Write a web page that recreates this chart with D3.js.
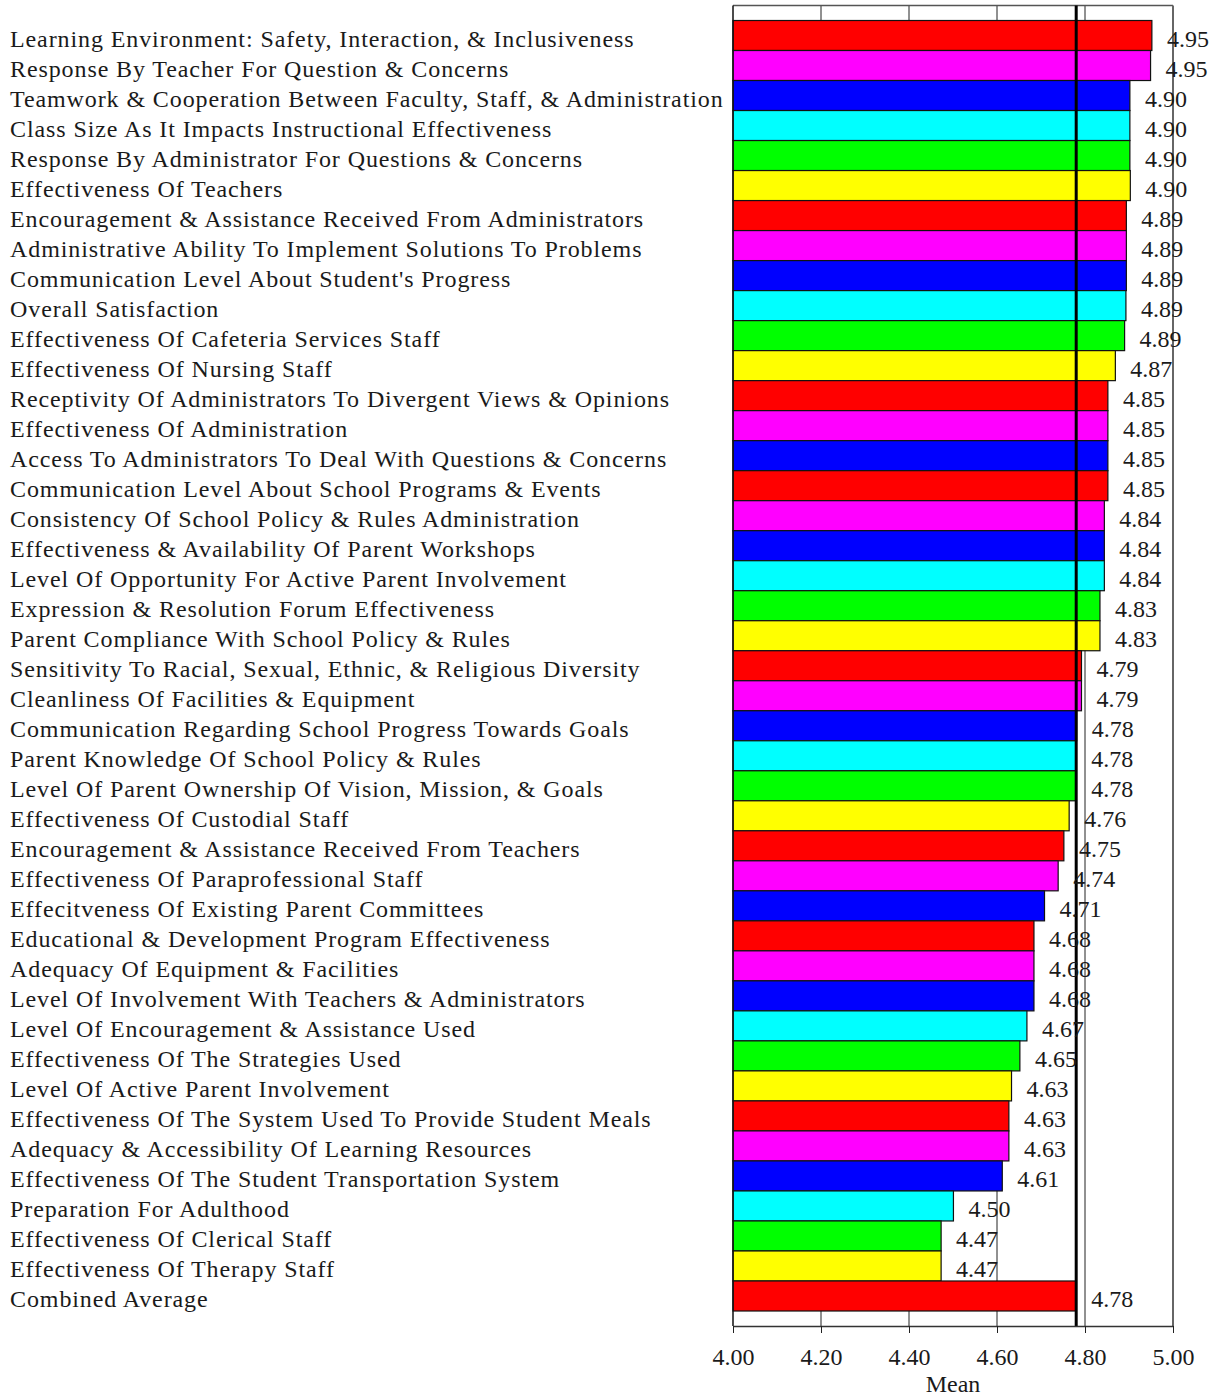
<!DOCTYPE html>
<html>
<head>
<meta charset="utf-8">
<script src="https://cdn.jsdelivr.net/npm/d3@7"></script>
<style>
  html, body { margin: 0; padding: 0; background: #fff; }
  svg { display: block; }
</style>
</head>
<body>
<svg id="chart" width="1214" height="1397"></svg>
<script>
// Survey items, in display order (top to bottom)
const categories = [
  "Learning Environment: Safety, Interaction, & Inclusiveness",
  "Response By Teacher For Question & Concerns",
  "Teamwork & Cooperation Between Faculty, Staff, & Administration",
  "Class Size As It Impacts Instructional Effectiveness",
  "Response By Administrator For Questions & Concerns",
  "Effectiveness Of Teachers",
  "Encouragement & Assistance Received From Administrators",
  "Administrative Ability To Implement Solutions To Problems",
  "Communication Level About Student's Progress",
  "Overall Satisfaction",
  "Effectiveness Of Cafeteria Services Staff",
  "Effectiveness Of Nursing Staff",
  "Receptivity Of Administrators To Divergent Views & Opinions",
  "Effectiveness Of Administration",
  "Access To Administrators To Deal With Questions & Concerns",
  "Communication Level About School Programs & Events",
  "Consistency Of School Policy & Rules Administration",
  "Effectiveness & Availability Of Parent Workshops",
  "Level Of Opportunity For Active Parent Involvement",
  "Expression & Resolution Forum Effectiveness",
  "Parent Compliance With School Policy & Rules",
  "Sensitivity To Racial, Sexual, Ethnic, & Religious Diversity",
  "Cleanliness Of Facilities & Equipment",
  "Communication Regarding School Progress Towards Goals",
  "Parent Knowledge Of School Policy & Rules",
  "Level Of Parent Ownership Of Vision, Mission, & Goals",
  "Effectiveness Of Custodial Staff",
  "Encouragement & Assistance Received From Teachers",
  "Effectiveness Of Paraprofessional Staff",
  "Effecitveness Of Existing Parent Committees",
  "Educational & Development Program Effectiveness",
  "Adequacy Of Equipment & Facilities",
  "Level Of Involvement With Teachers & Administrators",
  "Level Of Encouragement & Assistance Used",
  "Effectiveness Of The Strategies Used",
  "Level Of Active Parent Involvement",
  "Effectiveness Of The System Used To Provide Student Meals",
  "Adequacy & Accessibility Of Learning Resources",
  "Effectiveness Of The Student Transportation System",
  "Preparation For Adulthood",
  "Effectiveness Of Clerical Staff",
  "Effectiveness Of Therapy Staff",
  "Combined Average"
];

// Mean rating per item
const means = [
  4.952, 4.949, 4.902, 4.902, 4.902, 4.903, 4.894, 4.894, 4.894, 4.893,
  4.890, 4.869, 4.852, 4.852, 4.852, 4.852, 4.844, 4.844, 4.844, 4.834,
  4.834, 4.792, 4.792, 4.781, 4.780, 4.780, 4.764, 4.752, 4.739, 4.708,
  4.684, 4.684, 4.684, 4.668, 4.652, 4.633, 4.627, 4.627, 4.612, 4.501,
  4.473, 4.473, 4.780
];

// Colour group of each bar
const colorGroups = [
  0, 1, 2, 3, 4, 5, 0, 1, 2, 3,
  4, 5, 0, 1, 2, 0, 1, 2, 3, 4,
  5, 0, 1, 2, 3, 4, 5, 0, 1, 2,
  0, 1, 2, 3, 4, 5, 0, 1, 2, 3,
  4, 5, 0
];

const palette = ["#ff0000", "#ff00ff", "#0000ff", "#00ffff", "#00ff00", "#ffff00"];

// Axis settings
const xDomain = [4.0, 5.0];
const xTicks = [4.0, 4.2, 4.4, 4.6, 4.8, 5.0];
const xTitle = "Mean";
const referenceMean = 4.78;

const FONT = '"Liberation Serif"';
const TEXT_COLOR = "#1a1a1a";

const rows = categories.map((c, i) => ({ name: c, value: means[i], group: colorGroups[i] }));

const svg = d3.select("#chart");

const plot = { left: 733, right: 1173, top: 5.5, bottom: 1326 };
const barTop = 20.5, barBottom = 1311;

const x = d3.scaleLinear().domain(xDomain).range([plot.left, plot.right]);
const y = d3.scaleBand().domain(categories).range([barTop, barBottom]).padding(0);
const fmt = d3.format(".2f");

// Serif text helper
function serif(sel, spacing) {
  sel.style("font-family", FONT).style("font-size", "24px").attr("fill", TEXT_COLOR);
  if (spacing) sel.style("letter-spacing", spacing);
  return sel;
}

// Vertical grid lines behind the bars
svg.append("g")
  .selectAll("line")
  .data(xTicks.slice(1, -1))
  .join("line")
  .attr("x1", d => x(d)).attr("x2", d => x(d))
  .attr("y1", plot.top).attr("y2", plot.bottom)
  .attr("stroke", "#222").attr("stroke-width", 1);

// Bars
svg.append("g")
  .selectAll("rect")
  .data(rows)
  .join("rect")
  .attr("x", x(xDomain[0]))
  .attr("y", d => y(d.name))
  .attr("width", d => x(d.value) - x(xDomain[0]))
  .attr("height", y.bandwidth())
  .attr("fill", d => palette[d.group])
  .attr("stroke", "#111")
  .attr("stroke-width", 1.2);

// Frame: top and right edges in grey, left edge in black
svg.append("line")
  .attr("x1", plot.left).attr("x2", plot.right)
  .attr("y1", plot.top).attr("y2", plot.top)
  .attr("stroke", "#555").attr("stroke-width", 1.5);
svg.append("line")
  .attr("x1", plot.right).attr("x2", plot.right)
  .attr("y1", plot.top).attr("y2", plot.bottom)
  .attr("stroke", "#666").attr("stroke-width", 2);
svg.append("line")
  .attr("x1", plot.left).attr("x2", plot.left)
  .attr("y1", plot.top).attr("y2", plot.bottom)
  .attr("stroke", "#111").attr("stroke-width", 1.5);

// Reference line at the combined average
svg.append("line")
  .attr("x1", x(referenceMean)).attr("x2", x(referenceMean))
  .attr("y1", plot.top).attr("y2", plot.bottom)
  .attr("stroke", "#000").attr("stroke-width", 3);

// Bottom axis
const axis = d3.axisBottom(x)
  .tickValues(xTicks)
  .tickFormat(fmt)
  .tickSizeInner(7)
  .tickSizeOuter(0)
  .tickPadding(15);

const gAxis = svg.append("g")
  .attr("transform", `translate(0,${plot.bottom})`)
  .call(axis);
gAxis.attr("font-family", null).attr("font-size", null);
gAxis.select(".domain").attr("stroke", "#333").attr("stroke-width", 1.5);
gAxis.selectAll(".tick line").attr("stroke", "#222");
serif(gAxis.selectAll(".tick text"));

serif(svg.append("text")
  .attr("x", (plot.left + plot.right) / 2)
  .attr("y", 1392)
  .attr("text-anchor", "middle"))
  .text(xTitle);

// Category labels
serif(svg.append("g")
  .selectAll("text")
  .data(rows)
  .join("text")
  .attr("x", 10)
  .attr("y", d => y(d.name) + y.bandwidth() / 2)
  .attr("dy", "0.46em"), "0.9px")
  .text(d => d.name);

// Value labels
serif(svg.append("g")
  .selectAll("text")
  .data(rows)
  .join("text")
  .attr("x", d => x(d.value) + 15)
  .attr("y", d => y(d.name) + y.bandwidth() / 2)
  .attr("dy", "0.46em"))
  .text(d => fmt(d.value));
</script>
</body>
</html>
